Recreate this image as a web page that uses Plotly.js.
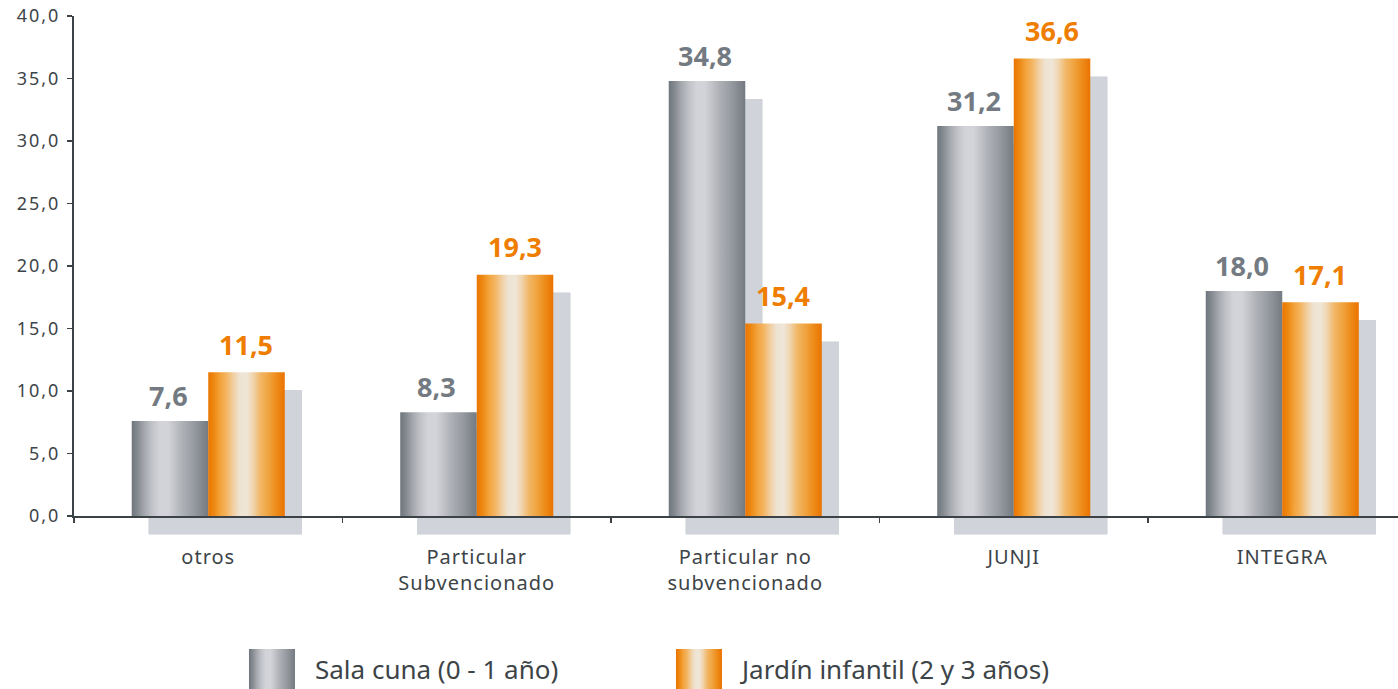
<!DOCTYPE html>
<html><head><meta charset="utf-8">
<script src="https://cdn.plot.ly/plotly-3.0.1.min.js"></script>
<style>
html,body{margin:0;padding:0;background:#fff;overflow:hidden;}
#chart{width:1398px;height:689px;}
.ytick text{letter-spacing:2px;}
.xtick text{letter-spacing:1px;}
</style></head><body><div id="chart"></div>
<script>
const categories = ['otros', 'Particular<br>Subvencionado', 'Particular no<br>subvencionado', 'JUNJI', 'INTEGRA'];
const salaCuna = [7.6, 8.3, 34.8, 31.2, 18.0];
const jardin = [11.5, 19.3, 15.4, 36.6, 17.1];
const seriesNames = ['Sala cuna (0 - 1 año)', 'Jardín infantil (2 y 3 años)'];
const yTicks = [0, 5, 10, 15, 20, 25, 30, 35, 40];

const GRAY_LABEL = '#737a81';
const ORANGE_LABEL = '#ee7d00';
const AXIS = '#3c4347';
const TEXT = '#3d4448';

const fmt = v => v.toFixed(1).replace('.', ',');

const traces = [
  {type: 'bar', name: seriesNames[0], x: categories, y: salaCuna,
   marker: {color: '#a9acb2', line: {width: 0}}, hoverinfo: 'none'},
  {type: 'bar', name: seriesNames[1], x: categories, y: jardin,
   marker: {color: '#f2a54a', line: {width: 0}}, hoverinfo: 'none'}
];

const annotations = [];
categories.forEach((c, i) => {
  annotations.push({x: c, y: salaCuna[i], text: fmt(salaCuna[i]), xref: 'x', yref: 'y',
    showarrow: false, xanchor: 'center', yanchor: 'bottom', xshift: -40, yshift: 5.5,
    font: {family: 'Noto Sans', size: 27, weight: 'bold', color: GRAY_LABEL}});
  annotations.push({x: c, y: jardin[i], text: fmt(jardin[i]), xref: 'x', yref: 'y',
    showarrow: false, xanchor: 'center', yanchor: 'bottom', xshift: 38, yshift: 7.5,
    font: {family: 'Noto Sans', size: 27, weight: 'bold', color: ORANGE_LABEL}});
});

const layout = {
  width: 1398, height: 689,
  margin: {l: 74, r: 0, t: 16, b: 173},
  paper_bgcolor: '#ffffff', plot_bgcolor: '#ffffff',
  separators: ',.',
  barmode: 'group', bargap: 0.43, bargroupgap: 0,
  showlegend: true,
  legend: {orientation: 'h', x: 0.1518, xanchor: 'left', yref: 'container', y: 0.029, yanchor: 'middle',
    font: {family: 'Noto Sans', size: 26, color: TEXT}, entrywidth: 382, entrywidthmode: 'pixels',
    bgcolor: 'rgba(0,0,0,0)'},
  xaxis: {type: 'category', range: [-0.5, 4.431], showline: true, linecolor: AXIS, linewidth: 2,
    ticks: 'outside', tickson: 'boundaries', ticklen: 5, tickwidth: 1.5, tickcolor: AXIS,
    ticklabelstandoff: 22, automargin: false,
    tickfont: {family: 'Noto Sans', size: 20, color: TEXT}, showgrid: false, zeroline: false},
  yaxis: {range: [0, 40], tickvals: yTicks, tickformat: '.1f', showline: true, linecolor: AXIS, linewidth: 2,
    ticks: 'outside', ticklen: 5, tickwidth: 1.5, tickcolor: AXIS, ticklabelstandoff: 3, automargin: false,
    tickfont: {family: 'Noto Sans', size: 18, color: TEXT}, showgrid: false, zeroline: false},
  annotations: annotations
};

const NS = 'http://www.w3.org/2000/svg';
function addGradient(defs, id, stops) {
  const g = document.createElementNS(NS, 'linearGradient');
  g.setAttribute('id', id);
  g.setAttribute('x1', '0'); g.setAttribute('x2', '1');
  g.setAttribute('y1', '0'); g.setAttribute('y2', '0');
  stops.forEach(([o, c]) => {
    const s = document.createElementNS(NS, 'stop');
    s.setAttribute('offset', o);
    s.setAttribute('stop-color', c);
    g.appendChild(s);
  });
  defs.appendChild(g);
}

Plotly.newPlot('chart', traces, layout, {displayModeBar: false, staticPlot: true}).then(gd => {
  const svg = gd.querySelector('.main-svg');
  let defs = svg.querySelector('defs');
  if (!defs) { defs = document.createElementNS(NS, 'defs'); svg.insertBefore(defs, svg.firstChild); }
  addGradient(defs, 'gradGray', [
    ['0%', '#6e757c'], ['8%', '#868b92'], ['16%', '#a3a6ac'], ['26%', '#bfc1c6'],
    ['36%', '#d1d3d9'], ['47%', '#d2d4da'], ['56%', '#c3c4c9'], ['66%', '#aeb1b6'],
    ['80%', '#999da3'], ['91%', '#858a91'], ['100%', '#737a81']]);
  addGradient(defs, 'gradOrange', [
    ['0%', '#ea7500'], ['8%', '#ee8a14'], ['16%', '#f3a43d'], ['24%', '#f4b562'],
    ['33%', '#f1d0a4'], ['41%', '#eee3d2'], ['50%', '#efe6d8'], ['58%', '#f0d6b2'],
    ['68%', '#f1b767'], ['78%', '#f0a542'], ['89%', '#ee8c1a'], ['100%', '#ea7300']]);

  // shadows behind bars
  const overplot = gd.querySelector('.overplot');
  const xyg = overplot.querySelector('g.xy');
  const tr = xyg.getAttribute('transform') || '';
  const sg = document.createElementNS(NS, 'g');
  sg.setAttribute('transform', tr + ' translate(17,18)');
  sg.setAttribute('shape-rendering', 'crispEdges');
  overplot.insertBefore(sg, xyg);
  const traceGroups = xyg.querySelectorAll('.barlayer .trace.bars');
  traceGroups.forEach((tg, ti) => {
    tg.querySelectorAll('.point path').forEach(p => {
      const c = p.cloneNode(true);
      c.style.fill = '#d0d3da';
      c.style.stroke = '#d0d3da';
      c.style.strokeWidth = '0.6px';
      c.style.opacity = '1';
      c.style.shapeRendering = 'crispEdges';
      sg.appendChild(c);
      p.style.fill = ti === 0 ? 'url(#gradGray)' : 'url(#gradOrange)';
    });
  });

  // legend swatches
  gd.querySelectorAll('.legend .traces').forEach((t, i) => {
    const txt = t.querySelector('text.legendtext');
    const tx = parseFloat(txt.getAttribute('x')) || 40;
    t.querySelectorAll('.legendpoints path').forEach(p => {
      p.setAttribute('d', 'M' + (tx - 66) + ',-20H' + (tx - 20) + 'V20H' + (tx - 66) + 'Z');
      p.setAttribute('transform', '');
      p.style.fill = i === 0 ? 'url(#gradGray)' : 'url(#gradOrange)';
      p.style.stroke = 'none';
    });
  });
  gd.querySelectorAll('.legend [clip-path]').forEach(e => e.removeAttribute('clip-path'));
});
</script>
</body></html>
